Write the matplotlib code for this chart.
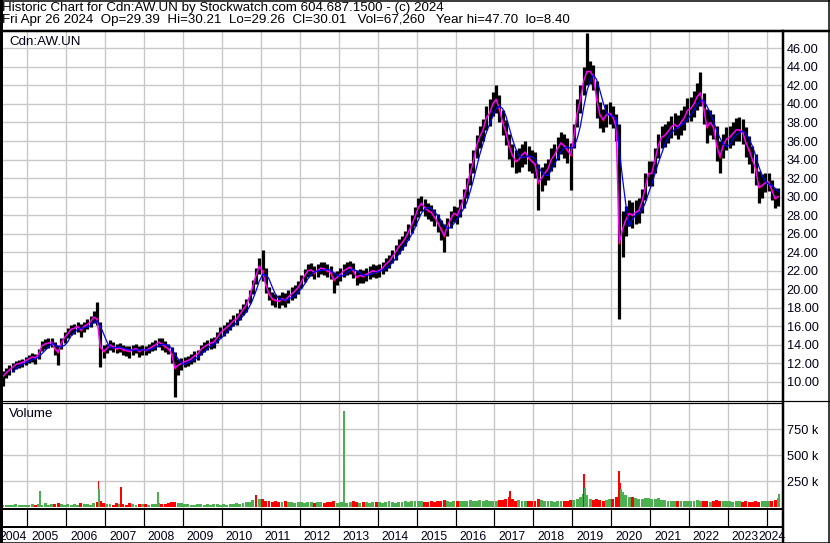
import numpy as np
import pandas as pd
import matplotlib
matplotlib.use("Agg")
import matplotlib.pyplot as plt
from matplotlib.lines import Line2D

plt.rcParams['font.family'] = ['Liberation Sans', 'DejaVu Sans']

W, H = 830, 543

# monthly bars, May 2004 .. Apr 2024
close = [10.6, 11.0, 11.3, 11.6, 11.9, 12.0, 12.1, 12.3,
         12.5, 12.7, 12.6, 13.0, 13.9, 14.1, 14.2, 14.3, 13.6, 13.2, 14.2, 14.8,
         15.2, 15.7, 15.8, 16.0, 15.6, 16.0, 16.2, 16.5, 17.0, 16.8, 13.8, 13.3,
         13.6, 14.0, 13.8, 13.6, 13.7, 13.5, 13.4, 13.3, 13.5, 13.6, 13.3, 13.5,
         13.4, 13.6, 13.8, 14.0, 14.3, 14.1, 13.8, 13.6, 13.0, 11.5, 11.8, 12.0,
         12.2, 12.3, 12.5, 12.8, 13.0, 13.5, 13.8, 14.0, 14.2, 14.3, 14.8, 15.3,
         15.6, 15.9, 16.2, 16.6, 16.8, 17.3, 17.8, 18.3, 19.2, 20.3, 21.5, 22.5,
         22.0, 20.5, 19.5, 19.0, 18.8, 18.7, 19.0, 18.8, 19.2, 19.5, 19.8, 20.2,
         20.8, 21.5, 22.0, 22.1, 21.8, 22.0, 22.3, 22.2, 22.0, 21.8, 21.0, 21.3,
         21.6, 22.0, 22.2, 22.4, 22.0, 21.3, 21.5, 21.4, 21.6, 21.8, 22.0, 21.9,
         22.0, 22.3, 22.7, 23.0, 23.5, 24.0, 24.6, 25.0, 25.5, 26.2, 27.0, 27.8,
         28.8, 29.3, 28.8, 28.5, 28.3, 27.8, 27.2, 26.5, 25.8, 26.8, 27.6, 28.2,
         28.0, 28.8, 29.8, 31.0, 32.5, 33.8, 35.5, 36.5, 37.2, 38.5, 39.0, 40.0,
         40.5, 39.5, 38.0, 37.0, 35.5, 34.5, 33.8, 34.0, 34.5, 34.8, 34.2, 33.8,
         33.5, 31.5, 32.0, 32.5, 33.0, 34.0, 34.5, 35.2, 35.8, 35.5, 35.0, 34.5,
         36.5, 39.0, 40.5, 42.5, 43.5, 43.5, 43.0, 40.5, 38.8, 38.3, 38.8, 39.0,
         38.6, 37.5, 25.0, 26.5, 27.5, 28.2, 28.0, 28.3, 28.5, 29.5, 31.0, 32.5,
         32.5, 34.0, 35.5, 36.4, 36.6, 37.0, 37.5, 37.8, 37.5, 38.0, 38.5, 39.3,
         39.5, 40.0, 40.8, 41.2, 39.5, 37.5, 38.0, 37.5, 35.5, 34.3, 35.5, 36.2,
         36.4, 36.8, 37.2, 37.2, 37.0, 35.8, 35.0, 34.0, 33.0, 31.0, 31.2, 31.5,
         31.6, 30.7, 29.8, 30.0]

high = [11.2, 11.5, 11.8, 12.0, 12.3, 12.4, 12.5, 12.7,
        12.9, 13.1, 13.0, 13.6, 14.4, 14.6, 14.7, 14.8, 14.3, 14.0, 14.8, 15.4,
        15.8, 16.2, 16.3, 16.5, 16.3, 16.5, 16.8, 17.1, 17.7, 18.6, 16.5, 14.0,
        14.1, 14.5, 14.3, 14.1, 14.2, 14.0, 13.9, 13.9, 14.0, 14.1, 13.9, 14.0,
        13.9, 14.1, 14.3, 14.5, 14.8, 14.7, 14.4, 14.1, 13.8, 13.2, 12.5, 12.6,
        12.7, 12.8, 13.0, 13.3, 13.5, 14.0, 14.3, 14.5, 14.7, 14.9, 15.4, 15.9,
        16.2, 16.5, 16.8, 17.2, 17.4, 17.9, 18.4, 19.0, 19.9, 21.0, 22.3, 23.4,
        24.2, 22.3, 20.3, 19.7, 19.5, 19.4, 19.7, 19.6, 19.9, 20.2, 20.5, 20.9,
        21.5, 22.2, 22.7, 22.8, 22.5, 22.7, 23.0, 22.9, 22.7, 22.5, 21.9, 22.0,
        22.3, 22.7, 22.9, 23.1, 22.8, 22.1, 22.2, 22.1, 22.3, 22.5, 22.7, 22.6,
        22.7, 23.0, 23.4, 23.7, 24.2, 24.8, 25.4, 25.8, 26.3, 27.1, 28.0, 28.9,
        29.8, 30.1, 29.7, 29.3, 29.1, 28.7, 28.1, 27.5, 27.0, 27.7, 28.5, 29.0,
        28.9, 29.7, 30.8, 32.0, 33.6, 35.0, 36.7, 37.6, 38.4, 39.8, 40.5, 41.3,
        42.0, 41.0, 39.4, 38.3, 36.8, 35.7, 35.0, 35.2, 35.7, 36.0, 35.5, 35.0,
        34.8, 33.5, 33.2, 33.6, 34.1, 35.2, 35.7, 36.4, 37.0, 36.8, 36.3, 35.8,
        37.8, 40.5, 42.0, 44.0, 47.7, 44.6, 44.2, 42.5, 40.2, 39.5, 40.0, 40.2,
        39.8, 38.9, 37.8, 28.5, 29.0, 29.6, 29.4, 29.6, 29.8, 30.8, 32.5, 33.8,
        33.8, 35.3, 36.8, 37.6, 37.8, 38.2, 38.7, 39.0, 38.8, 39.3, 39.8, 40.6,
        40.8, 41.4, 42.3, 43.5, 41.2, 39.5, 39.3, 38.9, 37.6, 36.0, 36.8, 37.5,
        37.6, 38.0, 38.5, 38.6, 38.4, 37.5, 36.5, 35.5, 34.6, 32.8, 32.4, 32.5,
        32.6, 31.8, 30.9, 30.9]

low = [9.6, 10.4, 10.8, 11.1, 11.4, 11.5, 11.6, 11.8,
       12.0, 12.2, 11.9, 12.5, 13.3, 13.6, 13.7, 13.8, 12.9, 11.8, 13.6, 14.2,
       14.7, 15.1, 15.2, 15.4, 14.9, 15.4, 15.7, 15.9, 16.4, 16.1, 11.6, 12.6,
       13.1, 13.5, 13.2, 13.1, 13.2, 12.9, 12.8, 12.6, 12.9, 13.1, 12.7, 12.9,
       12.9, 13.1, 13.3, 13.5, 13.8, 13.5, 13.2, 13.0, 12.0, 8.4, 10.8, 11.3,
       11.6, 11.7, 11.9, 12.2, 12.4, 12.9, 13.2, 13.4, 13.6, 13.7, 14.2, 14.7,
       15.0, 15.3, 15.6, 16.0, 16.2, 16.7, 17.2, 17.6, 18.5, 19.5, 20.6, 21.6,
       20.9, 19.6, 18.8, 18.3, 18.1, 18.0, 18.3, 18.1, 18.5, 18.8, 19.1, 19.5,
       20.1, 20.8, 21.3, 21.4, 21.1, 21.3, 21.6, 21.5, 21.3, 21.1, 19.6, 20.5,
       20.9, 21.3, 21.5, 21.7, 21.2, 20.5, 20.7, 20.7, 20.9, 21.1, 21.3, 21.2,
       21.3, 21.6, 22.0, 22.3, 22.8, 23.2, 23.8, 24.2, 24.7, 25.3, 26.1, 26.8,
       27.8, 28.4, 27.9, 27.6, 27.4, 26.8, 26.2, 25.3, 24.0, 25.7, 26.6, 27.3,
       27.0, 27.8, 28.8, 29.9, 31.3, 32.6, 34.2, 35.2, 36.0, 37.2, 37.6, 38.7,
       39.0, 38.0, 36.6, 35.6, 34.1, 33.2, 32.5, 32.7, 33.2, 33.5, 32.8, 32.5,
       32.0, 28.6, 30.6, 31.3, 31.8, 32.8, 33.2, 34.0, 34.6, 34.2, 33.6, 30.7,
       35.2, 37.5, 39.0, 41.0, 42.0, 42.2, 41.5, 38.5, 37.4, 37.0, 37.5, 37.8,
       37.4, 36.0, 16.8, 23.5, 25.8, 26.8, 26.6, 27.0, 27.2, 28.2, 29.6, 31.2,
       31.2, 32.6, 34.2, 35.2, 35.4, 35.8, 36.3, 36.6, 36.2, 36.7, 37.2, 38.0,
       38.2, 38.6, 39.3, 39.8, 37.8, 35.8, 36.6, 36.2, 33.8, 32.5, 34.2, 35.0,
       35.2, 35.6, 36.0, 36.0, 35.7, 34.3, 33.5, 32.5, 31.3, 29.3, 29.9, 30.5,
       30.6, 29.6, 28.8, 29.0]

# typical monthly volume level, thousands of shares
volume = [18, 22, 15, 20, 26, 22, 18, 24,
          22, 26, 20, 30, 24, 35, 22, 26, 30, 38, 26, 22,
          26, 24, 30, 22, 35, 26, 30, 24, 38, 50, 60, 36,
          30, 26, 24, 35, 26, 30, 22, 38, 26, 24, 30, 26,
          26, 22, 30, 26, 35, 30, 26, 38, 45, 52, 38, 35,
          30, 26, 24, 22, 26, 30, 22, 26, 24, 30, 26, 22,
          26, 24, 30, 26, 35, 30, 38, 45, 48, 65, 90, 75,
          80, 62, 55, 48, 56, 52, 45, 54, 48, 45, 42, 48,
          45, 42, 48, 45, 42, 52, 45, 42, 48, 45, 54, 42,
          45, 48, 42, 45, 54, 48, 42, 45, 48, 42, 45, 48,
          45, 42, 48, 54, 45, 42, 48, 45, 54, 48, 56, 54,
          56, 54, 48, 45, 54, 48, 56, 62, 66, 54, 48, 54,
          54, 62, 56, 54, 66, 62, 56, 70, 62, 66, 56, 62,
          62, 70, 66, 80, 95, 75, 62, 66, 56, 62, 54, 56,
          62, 80, 66, 56, 62, 54, 48, 54, 56, 62, 54, 66,
          70, 80, 95, 125, 115, 80, 70, 75, 66, 62, 70, 75,
          80, 95, 190, 145, 115, 95, 100, 85, 80, 75, 88, 85,
          80, 75, 85, 70, 66, 62, 58, 62, 54, 58, 62, 54,
          58, 62, 66, 54, 58, 62, 50, 54, 66, 62, 58, 54,
          54, 50, 58, 54, 50, 54, 45, 50, 54, 50, 58, 54,
          62, 58, 66, 88]

# single-day volume spikes
spike_dates = [2005.33, 2006.83, 2006.85, 2007.40, 2008.35, 2010.87, 2013.13,
               2017.40, 2019.30, 2019.33, 2020.20, 2020.23, 2020.26, 2024.30]
spike_vols = [150, 250, 175, 195, 140, 115, 925, 150, 320, 180, 345, 230, 170, 125]
spike_up = [True, False, True, False, True, False, True, False, False, True,
            False, False, True, True]

price_ticks = list(range(10, 47, 2))
vol_ticks = [250, 500, 750]
vol_labels = ['250 k', '500 k', '750 k']
years = list(range(2004, 2025))

# ---------------------------------------------------------------------------
months = pd.period_range('2004-05', '2024-04', freq='M')
t = np.array([p.year + (p.month - 0.5) / 12 for p in months])
close = np.array(close)
high = np.array(high)
low = np.array(low)
down = np.r_[False, close[1:] < close[:-1]]

PX_YR = 38.93
X2005 = 27.3
xlim = (2005 - (X2005 - 2) / PX_YR, 2005 + (782 - X2005) / PX_YR)

def fx(x):
    return x / W

def fy(y):
    return 1 - y / H

GRID = '#c8c8c8'
GREEN = '#4cb050'
RED = '#ff0000'
TXT = '#000018'
FS = 9.6      # header / panel titles
FT = 9.2      # axis labels
FY = 8.7      # year labels

fig = plt.figure(figsize=(W / 100, H / 100), dpi=100)

# price panel
ax = fig.add_axes([fx(2), fy(401), (782 - 2) / W, (401 - 31) / H])
ax.set_xlim(xlim)
ax.set_ylim(7.95, 47.87)
ax.set_xticks(years[1:])
ax.set_yticks(price_ticks)
ax.set_yticklabels(['%.2f' % v for v in price_ticks])
ax.yaxis.tick_right()
ax.tick_params(axis='y', length=0, pad=3.4, labelsize=FT, labelcolor=TXT)
ax.tick_params(axis='x', length=0, labelbottom=False)
ax.grid(True, color=GRID, lw=1.4 * 0.72)
ax.set_axisbelow(True)
for s in ax.spines.values():
    s.set_visible(False)

ax.vlines(t, low, high, color='black', lw=3.2 * 0.72)
ax.plot(t[down], close[down], 's', ms=1.6, mec='none', color=RED)
ax.plot(t, close, color='#ff00ff', lw=1.1)
ma = pd.Series(close).rolling(4).mean().values
ax.plot(t, ma, color='#0000ff', lw=0.9)
fig.text(fx(9.3), fy(45), 'Cdn:AW.UN', fontsize=FS, color=TXT, va='baseline')

# volume panel
av = fig.add_axes([fx(2), fy(508), (782 - 2) / W, (508 - 403) / H])
av.set_xlim(xlim)
av.set_ylim(-9.6, 1000)
av.set_xticks(years[1:])
av.set_yticks(vol_ticks)
av.set_yticklabels(vol_labels)
av.yaxis.tick_right()
av.tick_params(axis='y', length=0, pad=3.6, labelsize=FT, labelcolor=TXT)
av.tick_params(axis='x', length=0, labelbottom=False)
av.grid(True, color=GRID, lw=1.4 * 0.72)
av.set_axisbelow(True)
for s in av.spines.values():
    s.set_visible(False)
vcol = [RED if d else GREEN for d in down]
av.bar(t, volume, width=0.9 / 12, color=vcol, lw=0)
av.bar(spike_dates, spike_vols, width=1.8 / PX_YR,
       color=[GREEN if u else RED for u in spike_up], lw=0)
fig.text(fx(9.3), fy(417), 'Volume', fontsize=FS, color=TXT, va='baseline')

# date strip
ad = fig.add_axes([fx(2), fy(527), (782 - 2) / W, (527 - 509) / H])
ad.set_xlim(xlim)
ad.set_ylim(0, 1)
ad.axis('off')
for yr in years[1:]:
    ad.axvline(yr, color='black', lw=1.2 * 0.72)
for yr in years:
    xp = X2005 + (yr - 2005) * PX_YR
    if yr == years[0]:
        xl = -1
    elif yr == years[-1]:
        xl = 758.4          # squeezed in before the right frame
    else:
        xl = xp + 3.8
    fig.text(fx(xl), fy(540), str(yr), fontsize=FY, color=TXT, va='baseline')

# header
fig.text(fx(2), fy(10.5), 'Historic Chart for Cdn:AW.UN by Stockwatch.com 604.687.1500 - (c) 2024',
         fontsize=FS, color='black', va='baseline')
fig.text(fx(2), fy(23), 'Fri Apr 26 2024  Op=29.39  Hi=30.21  Lo=29.26  Cl=30.01   '
         'Vol=67,260   Year hi=47.70  lo=8.40',
         fontsize=FS, color='black', va='baseline')

# frame lines
def hline(y, x0, x1, lw):
    fig.add_artist(Line2D([fx(x0), fx(x1)], [fy(y), fy(y)], color='black',
                          lw=lw * 0.72, transform=fig.transFigure))

def vline(x, y0, y1, lw):
    fig.add_artist(Line2D([fx(x), fx(x)], [fy(y0), fy(y1)], color='black',
                          lw=lw * 0.72, transform=fig.transFigure))

hline(0.5, 0, W, 1.5)
hline(542.5, 0, W, 1.5)
vline(1, 0, H, 3)
vline(829, 0, H, 1.5)
hline(31, 0, W, 2.5)
vline(782.5, 31, H, 2.5)
hline(401, 0, W, 1.2)
hline(403, 0, 782, 1.2)
hline(509, 0, 782, 2)
hline(527, 0, 782, 2)

fig.savefig('out.png', dpi=100)
